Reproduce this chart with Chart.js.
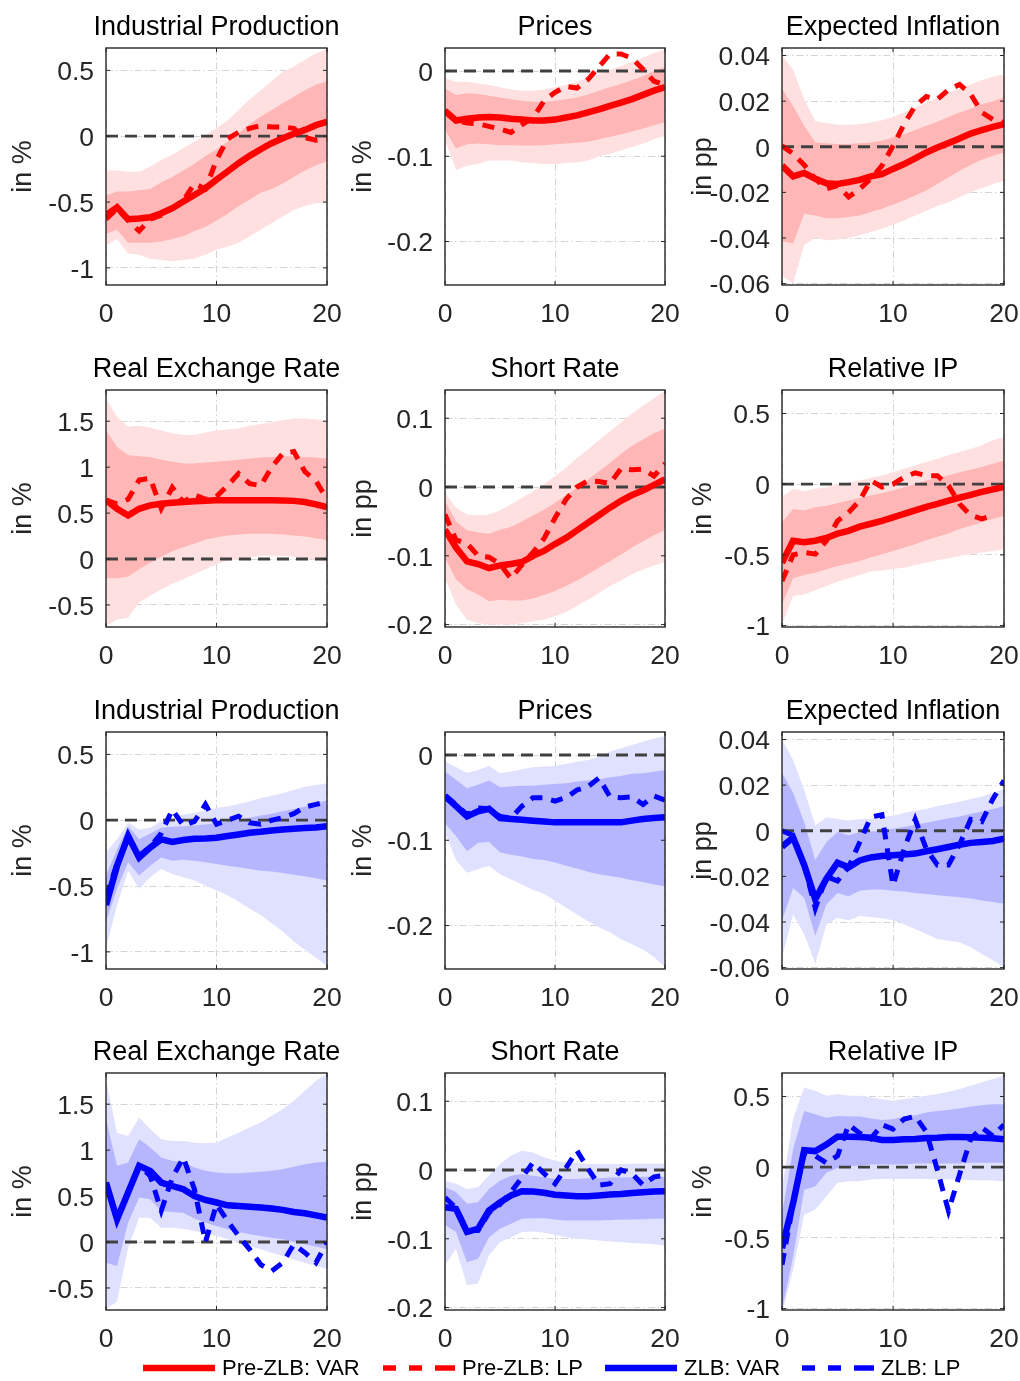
<!DOCTYPE html>
<html>
<head>
<meta charset="utf-8">
<script src="https://cdn.jsdelivr.net/npm/chart.js@4.4.1/dist/chart.umd.min.js"></script>
<style>
  html, body { margin: 0; padding: 0; background: #fff; }
  body { width: 1020px; height: 1381px; position: relative; overflow: hidden; font-family: 'Liberation Sans', Arial, sans-serif; }
  .panel { position: absolute; height: 340px; }
  #legend { position: absolute; left: 0; top: 1355px; width: 1020px; height: 26px; z-index: 5; }
  .key { position: absolute; top: 0; height: 26px; }
  .key svg { position: absolute; top: 0; left: 0; }
  .key span { position: absolute; top: 0; font-size: 22px; line-height: 26px; color: #000; white-space: nowrap; }
</style>
</head>
<body>
<div id="legend"></div>
<script>
// horizons (months after the shock)
const horizons = [0, 1, 2, 3, 4, 5, 6, 7, 8, 9, 10, 11, 12, 13, 14, 15, 16, 17, 18, 19, 20]
const xTicks = [0, 10, 20]
const zeroLevel = 0

// y axes per variable
const ipTicks = [-1, -0.5, 0, 0.5]
const ipRange = [-1.13, 0.67]
const prTicks = [-0.2, -0.1, 0]
const prRange = [-0.251, 0.027]
const eiTicks = [-0.06, -0.04, -0.02, 0, 0.02, 0.04]
const eiRange = [-0.0606, 0.0433]
const rerTicks = [-0.5, 0, 0.5, 1, 1.5]
const rerRange = [-0.74, 1.84]
const srTicks = [-0.2, -0.1, 0, 0.1]
const srRange = [-0.2035, 0.141]
const rpTicks = [-1, -0.5, 0, 0.5]
const rpRange = [-1.01, 0.666]

// ---- Pre-ZLB ----
const ipPreVar = [-0.60, -0.54, -0.63, -0.625, -0.615, -0.585, -0.547, -0.496, -0.446, -0.395, -0.33, -0.268, -0.205, -0.149, -0.099, -0.053, -0.015, 0.018, 0.048, 0.084, 0.11]
const ipPreLp = [-0.63, -0.55, -0.64, -0.72, -0.63, -0.60, -0.55, -0.49, -0.36, -0.40, -0.18, -0.02, 0.03, 0.06, 0.08, 0.07, 0.07, 0.06, -0.01, -0.03, -0.02]
const ipPreOutHi = [-0.26, -0.26, -0.27, -0.27, -0.23, -0.18, -0.14, -0.09, -0.04, 0.01, 0.06, 0.12, 0.2, 0.28, 0.35, 0.42, 0.49, 0.53, 0.58, 0.63, 0.66]
const ipPreInHi = [-0.45, -0.42, -0.42, -0.41, -0.40, -0.35, -0.31, -0.26, -0.21, -0.15, -0.10, -0.04, 0.02, 0.09, 0.15, 0.2, 0.25, 0.3, 0.35, 0.39, 0.42]
const ipPreInLo = [-0.74, -0.71, -0.81, -0.81, -0.81, -0.80, -0.78, -0.76, -0.72, -0.69, -0.64, -0.59, -0.53, -0.48, -0.43, -0.40, -0.36, -0.31, -0.26, -0.22, -0.19]
const ipPreOutLo = [-0.83, -0.78, -0.89, -0.90, -0.93, -0.94, -0.95, -0.94, -0.93, -0.90, -0.86, -0.84, -0.81, -0.76, -0.71, -0.66, -0.61, -0.56, -0.53, -0.51, -0.50]

const prPreVar = [-0.047, -0.058, -0.056, -0.0545, -0.054, -0.0545, -0.056, -0.057, -0.058, -0.058, -0.057, -0.0545, -0.052, -0.0486, -0.045, -0.041, -0.037, -0.033, -0.028, -0.023, -0.019]
const prPreLp = [-0.046, -0.058, -0.061, -0.062, -0.065, -0.068, -0.072, -0.063, -0.055, -0.035, -0.025, -0.018, -0.02, -0.01, 0.005, 0.02, 0.02, 0.015, 0.002, -0.012, -0.016]
const prPreOutHi = [-0.0086, -0.0125, -0.0125, -0.0145, -0.0165, -0.019, -0.0216, -0.023, -0.023, -0.0216, -0.019, -0.0165, -0.0125, -0.0078, -0.0035, 0.0012, 0.006, 0.011, 0.016, 0.021, 0.0255]
const prPreInHi = [-0.0204, -0.028, -0.026, -0.027, -0.029, -0.031, -0.033, -0.035, -0.036, -0.036, -0.035, -0.033, -0.031, -0.0275, -0.023, -0.019, -0.0153, -0.0106, -0.006, 0.0, 0.005]
const prPreInLo = [-0.069, -0.091, -0.086, -0.085, -0.086, -0.087, -0.087, -0.0875, -0.0875, -0.087, -0.086, -0.085, -0.084, -0.083, -0.08, -0.077, -0.0745, -0.071, -0.0675, -0.0635, -0.06]
const prPreOutLo = [-0.081, -0.116, -0.111, -0.109, -0.105, -0.105, -0.105, -0.107, -0.108, -0.109, -0.109, -0.108, -0.107, -0.105, -0.1, -0.097, -0.093, -0.089, -0.085, -0.08, -0.076]

const eiPreVar = [-0.0083, -0.013, -0.0115, -0.014, -0.016, -0.0163, -0.0155, -0.0145, -0.013, -0.012, -0.0097, -0.0076, -0.0051, -0.0025, -0.0003, 0.0016, 0.0036, 0.0058, 0.0073, 0.0087, 0.0099]
const eiPreLp = [0.0004, -0.003, -0.008, -0.014, -0.0185, -0.017, -0.022, -0.0185, -0.014, -0.0083, 0.0004, 0.0099, 0.018, 0.022, 0.0208, 0.025, 0.0273, 0.023, 0.015, 0.012, 0.0106]
const eiPreOutHi = [0.04, 0.0339, 0.0208, 0.0113, 0.0103, 0.0096, 0.0096, 0.0099, 0.0106, 0.0116, 0.0131, 0.015, 0.0172, 0.0193, 0.0215, 0.0237, 0.0254, 0.0273, 0.0292, 0.0307, 0.0317]
const eiPreInHi = [0.0254, 0.0179, 0.0092, 0.0019, 0.0015, 0.0012, 0.0012, 0.0015, 0.0019, 0.0026, 0.0041, 0.0055, 0.0073, 0.0092, 0.011, 0.0131, 0.015, 0.0167, 0.0186, 0.02, 0.0215]
const eiPreInLo = [-0.0414, -0.0424, -0.0294, -0.0301, -0.0313, -0.0313, -0.0308, -0.0301, -0.0286, -0.0272, -0.0254, -0.0235, -0.0214, -0.0192, -0.0163, -0.0134, -0.0105, -0.008, -0.0057, -0.0039, -0.0025]
const eiPreOutLo = [-0.0565, -0.0599, -0.0429, -0.04, -0.041, -0.0406, -0.04, -0.0388, -0.0374, -0.0359, -0.0342, -0.0323, -0.0301, -0.028, -0.026, -0.0243, -0.0221, -0.0199, -0.0182, -0.0163, -0.0148]

const rerPreVar = [0.64, 0.547, 0.474, 0.547, 0.584, 0.602, 0.613, 0.62, 0.628, 0.635, 0.639, 0.64, 0.64, 0.64, 0.64, 0.64, 0.638, 0.633, 0.62, 0.595, 0.566]
const rerPreLp = [0.64, 0.6, 0.65, 0.86, 0.88, 0.55, 0.78, 0.62, 0.7, 0.65, 0.68, 0.8, 0.93, 0.82, 0.8, 1.0, 1.15, 1.17, 0.95, 0.85, 0.65]
const rerPreOutHi = [1.75, 1.55, 1.44, 1.45, 1.43, 1.40, 1.37, 1.35, 1.35, 1.376, 1.40, 1.41, 1.42, 1.45, 1.47, 1.485, 1.51, 1.53, 1.53, 1.52, 1.51]
const rerPreInHi = [1.40, 1.22, 1.13, 1.12, 1.11, 1.08, 1.06, 1.04, 1.04, 1.05, 1.06, 1.07, 1.08, 1.095, 1.105, 1.11, 1.12, 1.12, 1.11, 1.105, 1.095]
const rerPreInLo = [-0.21, -0.21, -0.19, -0.11, -0.04, 0.025, 0.084, 0.128, 0.17, 0.21, 0.237, 0.255, 0.266, 0.274, 0.274, 0.274, 0.266, 0.255, 0.245, 0.226, 0.208]
const rerPreOutLo = [-0.73, -0.657, -0.64, -0.47, -0.40, -0.33, -0.27, -0.22, -0.164, -0.11, -0.055, -0.018, 0.0, 0.018, 0.036, 0.036, 0.036, 0.025, 0.011, -0.011, -0.026]

const srPreVar = [-0.062, -0.088, -0.108, -0.112, -0.118, -0.114, -0.112, -0.109, -0.1, -0.093, -0.083, -0.074, -0.063, -0.052, -0.041, -0.03, -0.02, -0.0117, -0.005, 0.003, 0.011]
const srPreLp = [-0.04, -0.077, -0.082, -0.1, -0.102, -0.112, -0.133, -0.113, -0.095, -0.075, -0.045, -0.018, 0.0, 0.009, 0.008, 0.005, 0.027, 0.025, 0.026, 0.016, 0.034]
const srPreOutHi = [-0.008, -0.03, -0.04, -0.041, -0.04, -0.034, -0.025, -0.0155, -0.006, 0.004, 0.016, 0.028, 0.042, 0.055, 0.068, 0.081, 0.094, 0.107, 0.118, 0.129, 0.14]
const srPreInHi = [-0.02, -0.05, -0.063, -0.066, -0.068, -0.062, -0.058, -0.05, -0.041, -0.033, -0.023, -0.012, -0.001, 0.011, 0.023, 0.035, 0.048, 0.06, 0.069, 0.078, 0.085]
const srPreInLo = [-0.103, -0.134, -0.149, -0.156, -0.166, -0.164, -0.165, -0.165, -0.162, -0.157, -0.151, -0.144, -0.136, -0.127, -0.117, -0.108, -0.098, -0.088, -0.079, -0.07, -0.063]
const srPreOutLo = [-0.132, -0.171, -0.193, -0.198, -0.2, -0.2, -0.2, -0.198, -0.195, -0.193, -0.188, -0.182, -0.173, -0.164, -0.154, -0.144, -0.136, -0.127, -0.12, -0.114, -0.109]

const rpPreVar = [-0.555, -0.40, -0.41, -0.40, -0.38, -0.35, -0.33, -0.30, -0.28, -0.26, -0.235, -0.21, -0.185, -0.16, -0.14, -0.116, -0.095, -0.075, -0.055, -0.037, -0.02]
const rpPreLp = [-0.685, -0.5, -0.483, -0.495, -0.4, -0.26, -0.2, -0.116, 0.026, -0.02, 0.0, 0.05, 0.08, 0.06, 0.06, -0.01, -0.14, -0.22, -0.245, -0.22, null]
const rpPreOutHi = [-0.092, -0.033, -0.05, -0.033, -0.021, -0.002, 0.014, 0.026, 0.045, 0.062, 0.085, 0.109, 0.133, 0.156, 0.18, 0.204, 0.227, 0.25, 0.275, 0.31, 0.334]
const rpPreInHi = [-0.27, -0.175, -0.187, -0.163, -0.152, -0.135, -0.116, -0.097, -0.08, -0.064, -0.045, -0.021, 0.002, 0.026, 0.045, 0.062, 0.085, 0.102, 0.121, 0.145, 0.168]
const rpPreInLo = [-0.85, -0.666, -0.642, -0.626, -0.602, -0.578, -0.562, -0.543, -0.519, -0.495, -0.472, -0.448, -0.424, -0.396, -0.372, -0.348, -0.317, -0.294, -0.27, -0.246, -0.223]
const rpPreOutLo = [-0.993, -0.79, -0.78, -0.75, -0.72, -0.69, -0.666, -0.642, -0.618, -0.61, -0.6, -0.59, -0.571, -0.555, -0.538, -0.524, -0.507, -0.495, -0.483, -0.472, -0.46]

// ---- ZLB ----
const ipZlbVar = [-0.645, -0.345, -0.12, -0.283, -0.208, -0.145, -0.165, -0.15, -0.14, -0.138, -0.133, -0.12, -0.108, -0.095, -0.088, -0.078, -0.07, -0.065, -0.06, -0.055, -0.045]
const ipZlbLp = [-0.58, -0.33, -0.13, -0.27, -0.2, -0.1, 0.08, -0.04, -0.01, 0.12, -0.03, 0.0, 0.03, -0.02, -0.03, 0.0, 0.02, 0.05, 0.1, 0.12, 0.14]
const ipZlbOutHi = [-0.245, -0.145, -0.02, -0.07, -0.058, -0.008, 0.018, 0.043, 0.055, 0.075, 0.093, 0.105, 0.123, 0.143, 0.168, 0.185, 0.205, 0.23, 0.255, 0.268, 0.28]
const ipZlbInHi = [-0.42, -0.22, -0.045, -0.145, -0.1, -0.058, -0.05, -0.045, -0.04, -0.033, -0.02, -0.008, 0.005, 0.018, 0.035, 0.05, 0.068, 0.085, 0.105, 0.13, 0.15]
const ipZlbInLo = [-0.77, -0.52, -0.32, -0.42, -0.345, -0.283, -0.308, -0.3, -0.308, -0.32, -0.333, -0.345, -0.358, -0.37, -0.383, -0.39, -0.4, -0.415, -0.425, -0.44, -0.458]
const ipZlbOutLo = [-0.97, -0.645, -0.383, -0.52, -0.433, -0.37, -0.408, -0.433, -0.458, -0.495, -0.533, -0.57, -0.62, -0.67, -0.72, -0.783, -0.845, -0.92, -0.983, -1.045, -1.108]

const prZlbVar = [-0.048, -0.06, -0.072, -0.066, -0.063, -0.074, -0.075, -0.076, -0.077, -0.078, -0.079, -0.079, -0.079, -0.079, -0.079, -0.079, -0.079, -0.077, -0.075, -0.074, -0.073]
const prZlbLp = [-0.048, -0.058, -0.07, -0.062, -0.063, -0.072, -0.074, -0.06, -0.05, -0.05, -0.054, -0.05, -0.041, -0.037, -0.027, -0.049, -0.05, -0.049, -0.058, -0.048, -0.053]
const prZlbOutHi = [-0.008, -0.014, -0.021, -0.0175, -0.013, -0.0214, -0.0195, -0.0167, -0.0144, -0.0136, -0.0128, -0.0105, -0.0078, -0.0058, -0.002, 0.004, 0.0078, 0.0117, 0.0156, 0.0195, 0.022]
const prZlbInHi = [-0.0195, -0.029, -0.039, -0.035, -0.03, -0.0377, -0.037, -0.036, -0.036, -0.035, -0.0339, -0.033, -0.031, -0.03, -0.0284, -0.026, -0.0245, -0.022, -0.0214, -0.0195, -0.0175]
const prZlbInLo = [-0.08, -0.095, -0.113, -0.103, -0.102, -0.114, -0.117, -0.119, -0.122, -0.123, -0.126, -0.13, -0.133, -0.137, -0.14, -0.142, -0.144, -0.147, -0.149, -0.152, -0.154]
const prZlbOutLo = [-0.091, -0.123, -0.138, -0.134, -0.13, -0.14, -0.146, -0.152, -0.158, -0.163, -0.171, -0.179, -0.187, -0.195, -0.202, -0.208, -0.216, -0.222, -0.228, -0.237, -0.249]

const eiZlbVar = [-0.007, -0.003, -0.015, -0.03, -0.021, -0.014, -0.016, -0.013, -0.0117, -0.0111, -0.0107, -0.0104, -0.01, -0.009, -0.0081, -0.0071, -0.0061, -0.0053, -0.0049, -0.0045, -0.0035]
const eiZlbLp = [0.0, -0.002, -0.015, -0.034, -0.02, -0.022, -0.016, -0.005, 0.006, 0.007, -0.024, -0.008, 0.005, -0.008, -0.015, -0.015, -0.006, 0.005, 0.004, 0.014, 0.022]
const eiZlbOutHi = [0.04, 0.031, 0.018, 0.0023, 0.0059, 0.0052, 0.0045, 0.0052, 0.0052, 0.0059, 0.0066, 0.0078, 0.0088, 0.0095, 0.0107, 0.0117, 0.0127, 0.0139, 0.015, 0.0167, 0.0182]
const eiZlbInHi = [0.0254, 0.0167, 0.0037, -0.0128, -0.0049, -0.0006, -0.002, -0.0006, -0.0003, 0.0, 0.0009, 0.0016, 0.0026, 0.0035, 0.0045, 0.0055, 0.0063, 0.0074, 0.0084, 0.0095, 0.0107]
const eiZlbInLo = [-0.0395, -0.0251, -0.0294, -0.046, -0.0323, -0.0273, -0.0287, -0.0263, -0.0258, -0.0258, -0.0263, -0.0266, -0.0273, -0.0277, -0.0283, -0.0287, -0.0291, -0.0297, -0.0306, -0.0312, -0.032]
const eiZlbOutLo = [-0.0554, -0.0367, -0.0453, -0.0583, -0.041, -0.0381, -0.0392, -0.0374, -0.0378, -0.0384, -0.0392, -0.041, -0.0431, -0.0453, -0.0475, -0.0482, -0.0489, -0.0511, -0.054, -0.0568, -0.0597]

const rerZlbVar = [0.647, 0.247, 0.538, 0.829, 0.775, 0.647, 0.61, 0.575, 0.5, 0.458, 0.43, 0.4, 0.393, 0.385, 0.375, 0.364, 0.35, 0.327, 0.313, 0.29, 0.265]
const rerZlbLp = [0.647, 0.247, 0.538, 0.829, 0.72, 0.34, 0.7, 0.92, 0.575, 0.0, 0.41, 0.23, 0.065, -0.08, -0.245, -0.316, -0.225, -0.025, -0.116, -0.225, -0.007]
const rerZlbOutHi = [1.77, 1.19, 1.155, 1.356, 1.23, 1.12, 1.1, 1.1, 1.08, 1.076, 1.08, 1.138, 1.19, 1.247, 1.3, 1.375, 1.447, 1.538, 1.647, 1.756, 1.83]
const rerZlbInHi = [1.338, 0.83, 0.865, 1.12, 1.03, 0.92, 0.884, 0.865, 0.81, 0.775, 0.756, 0.75, 0.75, 0.756, 0.764, 0.775, 0.793, 0.82, 0.847, 0.865, 0.873]
const rerZlbInLo = [-0.225, -0.262, 0.21, 0.484, 0.465, 0.338, 0.327, 0.32, 0.255, 0.21, 0.175, 0.138, 0.109, 0.084, 0.065, 0.047, 0.029, 0.0, -0.025, -0.05, -0.08]
const rerZlbOutLo = [-0.735, -0.644, -0.062, 0.265, 0.265, 0.156, 0.156, 0.145, 0.12, 0.095, 0.065, 0.029, -0.007, -0.044, -0.08, -0.116, -0.153, -0.189, -0.225, -0.262, -0.29]

const srZlbVar = [-0.054, -0.0565, -0.09, -0.0855, -0.059, -0.047, -0.037, -0.031, -0.0314, -0.033, -0.036, -0.037, -0.038, -0.038, -0.037, -0.0357, -0.0348, -0.0333, -0.0324, -0.0314, -0.031]
const srZlbLp = [-0.04, -0.055, -0.088, -0.088, -0.062, -0.05, -0.032, -0.011, 0.011, -0.005, -0.02, 0.003, 0.028, 0.002, -0.022, -0.02, 0.0, -0.005, -0.022, -0.01, -0.008]
const srZlbOutHi = [-0.0155, -0.02, -0.0275, -0.025, -0.008, 0.0087, 0.021, 0.028, 0.0256, 0.0184, 0.0135, 0.011, 0.01, 0.0087, 0.0087, 0.0087, 0.0087, 0.009, 0.009, 0.009, 0.009]
const srZlbInHi = [-0.025, -0.032, -0.049, -0.047, -0.0275, -0.0155, -0.0082, -0.0058, -0.0082, -0.0106, -0.013, -0.013, -0.013, -0.012, -0.012, -0.011, -0.011, -0.0105, -0.0097, -0.0097, -0.0097]
const srZlbInLo = [-0.08, -0.09, -0.134, -0.129, -0.0976, -0.0855, -0.078, -0.071, -0.07, -0.07, -0.072, -0.0734, -0.0734, -0.0734, -0.0734, -0.0725, -0.072, -0.072, -0.0715, -0.071, -0.071]
const srZlbOutLo = [-0.1386, -0.1145, -0.1676, -0.165, -0.124, -0.105, -0.0976, -0.09, -0.0894, -0.0913, -0.094, -0.0976, -0.1, -0.101, -0.1024, -0.104, -0.105, -0.106, -0.107, -0.108, -0.1097]

const rpZlbVar = [-0.573, -0.254, 0.12, 0.114, 0.16, 0.216, 0.216, 0.213, 0.208, 0.192, 0.192, 0.197, 0.2, 0.206, 0.208, 0.213, 0.213, 0.211, 0.208, 0.204, 0.197]
const rpZlbLp = [-0.69, -0.26, 0.1, 0.08, 0.03, 0.08, 0.3, 0.24, 0.2, 0.3, 0.27, 0.34, 0.36, 0.25, -0.02, -0.31, -0.05, 0.2, 0.28, 0.22, 0.3]
const rpZlbOutHi = [-0.15, 0.34, 0.564, 0.54, 0.505, 0.517, 0.505, 0.505, 0.493, 0.48, 0.47, 0.48, 0.493, 0.505, 0.517, 0.533, 0.552, 0.576, 0.6, 0.623, 0.647]
const rpZlbInHi = [-0.33, 0.126, 0.398, 0.374, 0.35, 0.362, 0.358, 0.358, 0.344, 0.334, 0.339, 0.358, 0.367, 0.386, 0.398, 0.405, 0.415, 0.429, 0.438, 0.445, 0.445]
const rpZlbInLo = [-1.01, -0.633, -0.159, -0.135, -0.04, -0.005, 0.007, 0.012, 0.019, 0.019, 0.019, 0.019, 0.026, 0.026, 0.026, 0.026, 0.026, 0.031, 0.031, 0.031, 0.031]
const rpZlbOutLo = [-1.03, -0.727, -0.336, -0.3, -0.206, -0.111, -0.1, -0.1, -0.088, -0.083, -0.083, -0.083, -0.083, -0.083, -0.088, -0.088, -0.088, -0.092, -0.092, -0.095, -0.1]

const legendLabels = ['Pre-ZLB: VAR', 'Pre-ZLB: LP', 'ZLB: VAR', 'ZLB: LP']

// ---- styling / layout ----
const preColors = { line: '#ff0000', inner: '#ffb6b6', outer: '#ffe0e0' }
const zlbColors = { line: '#0000ff', inner: '#b6b6ff', outer: '#e0e0ff' }

const colLeft = [0, 340, 680]
const plotLeft = [106, 445, 782]
const plotRight = [327, 665, 1004]
const rowPlotTop = [48, 390, 732, 1073]
const plotHeight = 237
const titleBand = 48
const panelHeight = 340
const xAxisHeight = panelHeight - titleBand - plotHeight

Chart.defaults.font.family = "'Liberation Sans', Arial, Helvetica, sans-serif"
Chart.defaults.color = '#262626'

function axis(ticks, range, unit) {
  return { ticks, range, unit }
}

const panels = [
  { title: 'Industrial Production', ax: axis(ipTicks, ipRange, 'in %'), c: preColors, v: ipPreVar, lp: ipPreLp, bands: [ipPreInHi, ipPreInLo, ipPreOutHi, ipPreOutLo] },
  { title: 'Prices', ax: axis(prTicks, prRange, 'in %'), c: preColors, v: prPreVar, lp: prPreLp, bands: [prPreInHi, prPreInLo, prPreOutHi, prPreOutLo] },
  { title: 'Expected Inflation', ax: axis(eiTicks, eiRange, 'in pp'), c: preColors, v: eiPreVar, lp: eiPreLp, bands: [eiPreInHi, eiPreInLo, eiPreOutHi, eiPreOutLo] },
  { title: 'Real Exchange Rate', ax: axis(rerTicks, rerRange, 'in %'), c: preColors, v: rerPreVar, lp: rerPreLp, bands: [rerPreInHi, rerPreInLo, rerPreOutHi, rerPreOutLo] },
  { title: 'Short Rate', ax: axis(srTicks, srRange, 'in pp'), c: preColors, v: srPreVar, lp: srPreLp, bands: [srPreInHi, srPreInLo, srPreOutHi, srPreOutLo] },
  { title: 'Relative IP', ax: axis(rpTicks, rpRange, 'in %'), c: preColors, v: rpPreVar, lp: rpPreLp, bands: [rpPreInHi, rpPreInLo, rpPreOutHi, rpPreOutLo] },
  { title: 'Industrial Production', ax: axis(ipTicks, ipRange, 'in %'), c: zlbColors, v: ipZlbVar, lp: ipZlbLp, bands: [ipZlbInHi, ipZlbInLo, ipZlbOutHi, ipZlbOutLo] },
  { title: 'Prices', ax: axis(prTicks, prRange, 'in %'), c: zlbColors, v: prZlbVar, lp: prZlbLp, bands: [prZlbInHi, prZlbInLo, prZlbOutHi, prZlbOutLo] },
  { title: 'Expected Inflation', ax: axis(eiTicks, eiRange, 'in pp'), c: zlbColors, v: eiZlbVar, lp: eiZlbLp, bands: [eiZlbInHi, eiZlbInLo, eiZlbOutHi, eiZlbOutLo] },
  { title: 'Real Exchange Rate', ax: axis(rerTicks, rerRange, 'in %'), c: zlbColors, v: rerZlbVar, lp: rerZlbLp, bands: [rerZlbInHi, rerZlbInLo, rerZlbOutHi, rerZlbOutLo] },
  { title: 'Short Rate', ax: axis(srTicks, srRange, 'in pp'), c: zlbColors, v: srZlbVar, lp: srZlbLp, bands: [srZlbInHi, srZlbInLo, srZlbOutHi, srZlbOutLo] },
  { title: 'Relative IP', ax: axis(rpTicks, rpRange, 'in %'), c: zlbColors, v: rpZlbVar, lp: rpZlbLp, bands: [rpZlbInHi, rpZlbInLo, rpZlbOutHi, rpZlbOutLo] }
]

function toPoints(values) {
  return values.map((v, i) => ({ x: horizons[i], y: v }))
}

// box around the axes plus small inward ticks, matlab style
const framePlugin = {
  id: 'frame',
  afterDatasetsDraw(chart) {
    const { ctx, chartArea: a, scales } = chart
    ctx.save()
    ctx.strokeStyle = '#262626'
    ctx.lineWidth = 1.4
    ctx.setLineDash([])
    ctx.strokeRect(a.left, a.top, a.right - a.left, a.bottom - a.top)
    ctx.lineWidth = 1
    ctx.beginPath()
    scales.x.ticks.forEach(t => {
      const px = scales.x.getPixelForValue(t.value)
      ctx.moveTo(px, a.bottom)
      ctx.lineTo(px, a.bottom - 4)
      ctx.moveTo(px, a.top)
      ctx.lineTo(px, a.top + 4)
    })
    scales.y.ticks.forEach(t => {
      const py = scales.y.getPixelForValue(t.value)
      ctx.moveTo(a.left, py)
      ctx.lineTo(a.left + 4, py)
      ctx.moveTo(a.right, py)
      ctx.lineTo(a.right - 4, py)
    })
    ctx.stroke()
    ctx.restore()
  }
}

function makeDatasets(p) {
  const band = { pointRadius: 0, borderColor: 'rgba(0,0,0,0)', borderWidth: 1, tension: 0, clip: 0 }
  return [
    { data: toPoints(p.v), borderColor: p.c.line, borderWidth: 6.5, pointRadius: 0, fill: false, tension: 0, clip: 0 },
    { data: toPoints(p.lp), borderColor: p.c.line, borderWidth: 5, borderDash: [12, 9], pointRadius: 0, fill: false, tension: 0, clip: 0 },
    {
      data: [{ x: horizons[0], y: zeroLevel }, { x: horizons[horizons.length - 1], y: zeroLevel }],
      borderColor: '#404040', borderWidth: 2.8, borderDash: [12, 7], pointRadius: 0, fill: false, clip: 0
    },
    { ...band, data: toPoints(p.bands[0]), fill: '+1', backgroundColor: p.c.inner },
    { ...band, data: toPoints(p.bands[1]), fill: false },
    { ...band, data: toPoints(p.bands[2]), fill: '+1', backgroundColor: p.c.outer },
    { ...band, data: toPoints(p.bands[3]), fill: false }
  ]
}

panels.forEach((p, i) => {
  const row = Math.floor(i / 3)
  const col = i % 3
  // canvas is made symmetric about the plot centre so the title centres over the axes
  const plotMid = (plotLeft[col] + plotRight[col]) / 2
  const canvasWidth = Math.round(2 * (plotMid - colLeft[col]))
  const box = document.createElement('div')
  box.className = 'panel'
  box.style.left = colLeft[col] + 'px'
  box.style.top = (rowPlotTop[row] - titleBand) + 'px'
  box.style.width = canvasWidth + 'px'
  const canvas = document.createElement('canvas')
  canvas.width = canvasWidth
  canvas.height = panelHeight
  box.appendChild(canvas)
  document.body.appendChild(box)

  const yWidth = plotLeft[col] - colLeft[col]
  const rightSpace = colLeft[col] + canvasWidth - plotRight[col]

  new Chart(canvas, {
    type: 'line',
    data: { datasets: makeDatasets(p) },
    options: {
      responsive: false,
      animation: false,
      events: [],
      spanGaps: false,
      layout: { padding: 0 },
      plugins: {
        legend: { display: false },
        tooltip: { enabled: false },
        title: {
          display: true,
          text: p.title,
          color: '#000',
          font: { size: 27, weight: 'normal' },
          padding: { top: 11, bottom: 4.6 }
        }
      },
      scales: {
        x: {
          type: 'linear',
          min: horizons[0],
          max: horizons[horizons.length - 1],
          afterBuildTicks: s => { s.ticks = xTicks.map(v => ({ value: v })) },
          afterFit: s => { s.height = xAxisHeight; s.paddingLeft = 0; s.paddingRight = 0 },
          grid: { color: '#d4d4d4', lineWidth: 1, drawTicks: false },
          border: { display: false, dash: [7, 3, 1.5, 3] },
          ticks: { padding: 14, autoSkip: false, maxRotation: 0, font: { size: 26.5 }, color: '#262626' }
        },
        y: {
          min: p.ax.range[0],
          max: p.ax.range[1],
          afterBuildTicks: s => { s.ticks = p.ax.ticks.map(v => ({ value: v })) },
          afterFit: s => { s.width = yWidth; s.paddingTop = 0; s.paddingBottom = 0 },
          grid: { color: '#d4d4d4', lineWidth: 1, drawTicks: false },
          border: { display: false, dash: [7, 3, 1.5, 3] },
          ticks: { padding: 12, labelOffset: 2.5, autoSkip: false, font: { size: 26.5 }, color: '#262626', callback: v => String(v) },
          title: { display: true, text: p.ax.unit, color: '#262626', font: { size: 27 }, padding: { top: 7, bottom: 0 } }
        },
        // empty right-hand axis that only reserves the space right of the plot
        spacer: {
          position: 'right',
          grid: { display: false },
          border: { display: false },
          ticks: { display: false },
          afterFit: s => { s.width = rightSpace; s.paddingTop = 0; s.paddingBottom = 0 }
        }
      }
    },
    plugins: [framePlugin]
  })
})

// legend row under the grid
const legendKeys = [
  { left: 143, color: preColors.line, dash: null },
  { left: 383, color: preColors.line, dash: '13 13 13 13 20' },
  { left: 605, color: zlbColors.line, dash: null },
  { left: 802, color: zlbColors.line, dash: '13 13 13 13 20' }
]
const legend = document.getElementById('legend')
legendKeys.forEach((k, i) => {
  const item = document.createElement('div')
  item.className = 'key'
  item.style.left = k.left + 'px'
  const w = k.dash ? 5.5 : 6.5
  const dashAttr = k.dash ? ` stroke-dasharray="${k.dash}"` : ''
  item.innerHTML =
    `<svg width="72" height="26"><line x1="0" y1="13" x2="72" y2="13" stroke="${k.color}" stroke-width="${w}"${dashAttr}/></svg>` +
    `<span style="left:79px">${legendLabels[i]}</span>`
  legend.appendChild(item)
})
</script>
</body>
</html>
